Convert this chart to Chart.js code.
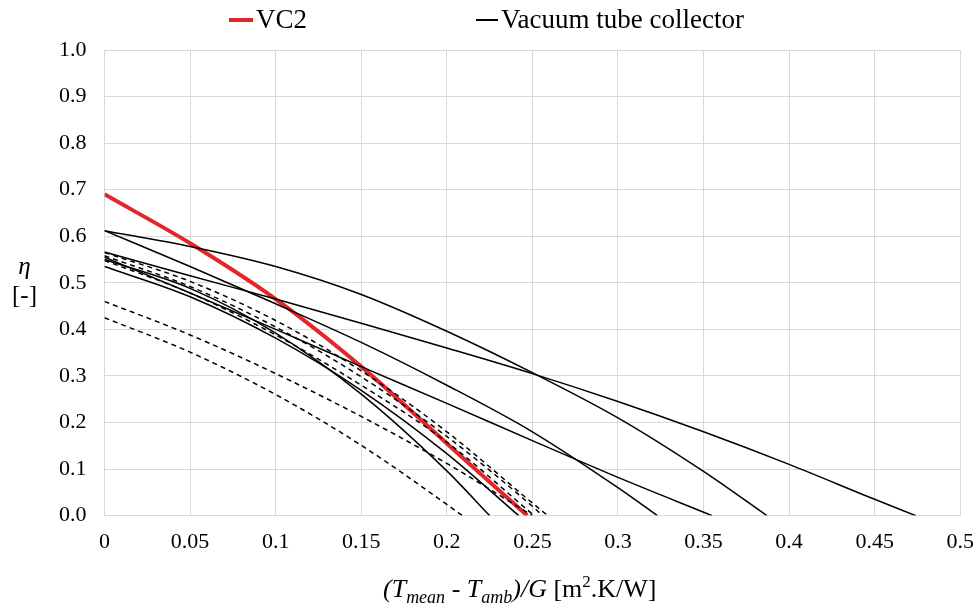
<!DOCTYPE html>
<html>
<head>
<meta charset="utf-8">
<script src="https://cdn.jsdelivr.net/npm/chart.js@4.4.1/dist/chart.umd.min.js"></script>
<style>
  body { margin: 0; background: #fff; overflow: hidden; }
  #wrap { position: relative; width: 976px; height: 610px; overflow: hidden; font-family: "Liberation Serif", "Times New Roman", serif; color: #000; }
  #chart { position: absolute; left: 0; top: 0; }
  .leg { position: absolute; top: 4px; font-size: 27px; white-space: nowrap; }
  .sw { display: inline-block; width: 24px; vertical-align: middle; margin-right: 3px; position: relative; top: -2px; }
  #ytitle { position: absolute; left: 12px; top: 251px; font-size: 25px; line-height: 29px; text-align: center; }
  #xtitle { position: absolute; left: 383px; top: 572px; font-size: 26px; white-space: nowrap; }
  #xtitle sub { font-size: 18px; }
  #xtitle sup { font-size: 17px; }
</style>
</head>
<body>
<div id="wrap">
  <canvas id="chart" width="987" height="610"></canvas>
  <div class="leg" style="left:229px"><span class="sw" style="height:4px;background:#e3262b"></span>VC2</div>
  <div class="leg" style="left:476px"><span class="sw" style="height:1.5px;background:#000;width:22px"></span>Vacuum tube collector</div>
  <div id="ytitle"><i>η</i><br>[-]</div>
  <div id="xtitle"><i>(T<sub>mean</sub> - T<sub>amb</sub>)/G</i> [m<sup>2</sup>.K/W]</div>
</div>
<script>
// x ticks and y ticks as shown on the axes
const xTickLabels = ["0", "0.05", "0.1", "0.15", "0.2", "0.25", "0.3", "0.35", "0.4", "0.45", "0.5"];
const yTickLabels = ["0.0", "0.1", "0.2", "0.3", "0.4", "0.5", "0.6", "0.7", "0.8", "0.9", "1.0"];

// VC2 efficiency curve
const vc2X = [0, 0.05, 0.1, 0.15, 0.2, 0.247];
const vc2Y = [0.69, 0.585, 0.465, 0.32, 0.155, 0];

// vacuum tube collectors, solid lines
const solidA_X = [0, 0.05, 0.1, 0.15, 0.2, 0.25, 0.3, 0.35, 0.387];
const solidA_Y = [0.612, 0.578, 0.535, 0.475, 0.396, 0.307, 0.21, 0.095, 0];
const solidB_X = [0, 0.05, 0.1, 0.15, 0.2, 0.25, 0.3, 0.35, 0.4, 0.45, 0.474];
const solidB_Y = [0.566, 0.515, 0.465, 0.413, 0.36, 0.305, 0.245, 0.18, 0.11, 0.035, 0];
const solidC_X = [0, 0.05, 0.1, 0.15, 0.2, 0.25, 0.3, 0.323];
const solidC_Y = [0.612, 0.535, 0.455, 0.372, 0.28, 0.18, 0.06, 0];
const solidD_X = [0, 0.05, 0.1, 0.15, 0.2, 0.25, 0.3, 0.355];
const solidD_Y = [0.555, 0.478, 0.4, 0.32, 0.241, 0.161, 0.082, 0];
const solidE_X = [0, 0.05, 0.1, 0.15, 0.2, 0.225];
const solidE_Y = [0.55, 0.488, 0.392, 0.261, 0.096, 0];
const solidF_X = [0, 0.05, 0.1, 0.15, 0.2, 0.242];
const solidF_Y = [0.535, 0.47, 0.381, 0.269, 0.133, 0];

// vacuum tube collectors, dashed lines
const dashA_X = [0, 0.05, 0.1, 0.15, 0.2, 0.25, 0.259];
const dashA_Y = [0.565, 0.503, 0.419, 0.311, 0.18, 0.027, 0];
const dashB_X = [0, 0.05, 0.1, 0.15, 0.2, 0.25, 0.256];
const dashB_Y = [0.558, 0.492, 0.405, 0.298, 0.17, 0.02, 0];
const dashC_X = [0, 0.05, 0.1, 0.15, 0.2, 0.251];
const dashC_Y = [0.548, 0.478, 0.388, 0.28, 0.158, 0];
const dashD_X = [0, 0.05, 0.1, 0.15, 0.2, 0.25];
const dashD_Y = [0.46, 0.388, 0.305, 0.213, 0.112, 0];
const dashE_X = [0, 0.05, 0.1, 0.15, 0.2, 0.209];
const dashE_Y = [0.425, 0.351, 0.26, 0.151, 0.024, 0];

function pts(xs, ys) {
  return xs.map((x, i) => ({ x: x, y: ys[i] }));
}

function blackLine(xs, ys, dashed) {
  return {
    label: "Vacuum tube collector",
    data: pts(xs, ys),
    borderColor: "#000",
    borderWidth: 1.5,
    borderDash: dashed ? [5, 4] : [],
    pointRadius: 0,
    cubicInterpolationMode: "monotone",
    fill: false
  };
}

const datasets = [
  blackLine(solidA_X, solidA_Y, false),
  blackLine(solidB_X, solidB_Y, false),
  blackLine(solidC_X, solidC_Y, false),
  blackLine(solidD_X, solidD_Y, false),
  blackLine(solidE_X, solidE_Y, false),
  blackLine(solidF_X, solidF_Y, false),
  blackLine(dashA_X, dashA_Y, true),
  blackLine(dashB_X, dashB_Y, true),
  blackLine(dashC_X, dashC_Y, true),
  blackLine(dashD_X, dashD_Y, true),
  blackLine(dashE_X, dashE_Y, true),
  {
    label: "VC2",
    data: pts(vc2X, vc2Y),
    borderColor: "#e3262b",
    borderWidth: 4,
    pointRadius: 0,
    cubicInterpolationMode: "monotone",
    fill: false
  }
];

const tickFont = { family: "Liberation Serif", size: 22 };

const ctx = document.getElementById("chart").getContext("2d");
new Chart(ctx, {
  type: "line",
  data: { datasets: datasets },
  options: {
    responsive: false,
    animation: false,
    layout: { padding: { left: 41, right: 0, top: 50, bottom: 42 } },
    plugins: { legend: { display: false }, tooltip: { enabled: false } },
    scales: {
      x: {
        type: "linear",
        min: 0,
        max: 0.5,
        ticks: {
          stepSize: 0.05,
          color: "#000",
          font: tickFont,
          padding: 13,
          maxRotation: 0,
          callback: (v) => xTickLabels[Math.round(v / 0.05)]
        },
        grid: { color: "#d9d9d9", lineWidth: 1, drawTicks: false },
        border: { color: "#d9d9d9" }
      },
      y: {
        min: 0,
        max: 1,
        ticks: {
          stepSize: 0.1,
          color: "#000",
          font: tickFont,
          padding: 18,
          callback: (v) => yTickLabels[Math.round(v / 0.1)]
        },
        grid: { color: "#d9d9d9", lineWidth: 1, drawTicks: false },
        border: { color: "#d9d9d9" }
      }
    }
  }
});
</script>
</body>
</html>
